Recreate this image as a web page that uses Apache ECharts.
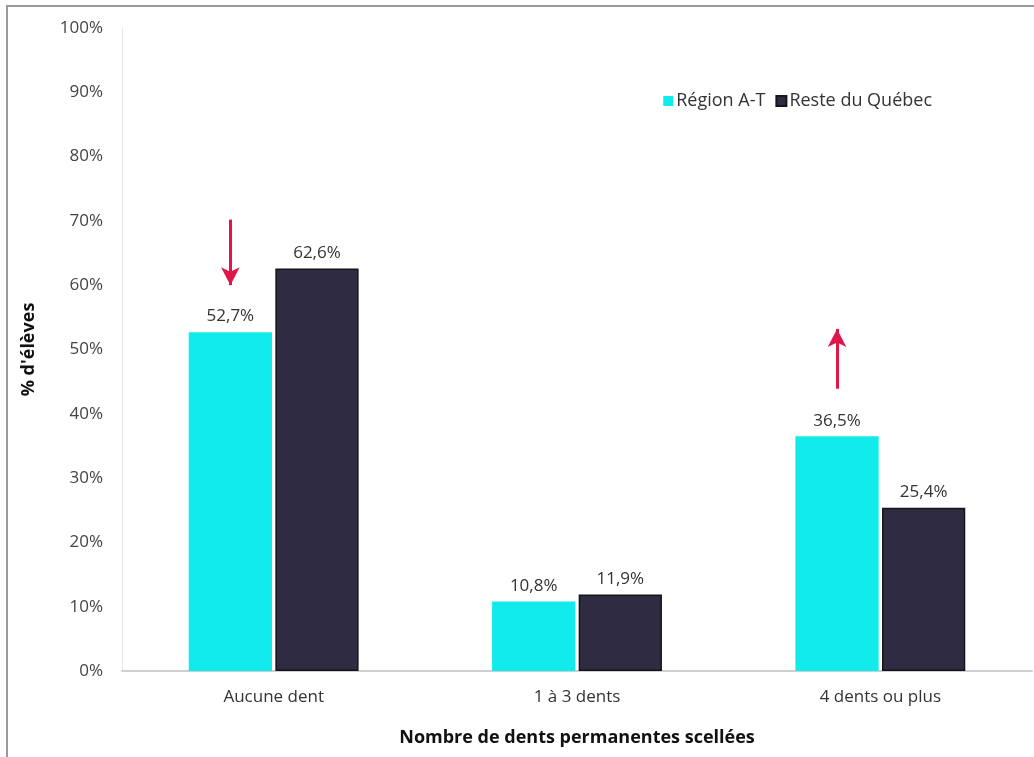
<!DOCTYPE html>
<html><head><meta charset="utf-8">
<script src="https://cdn.jsdelivr.net/npm/echarts@6/dist/echarts.min.js"></script>
<style>html,body{margin:0;padding:0;background:#fff}#c{width:1034px;height:757px}</style>
</head><body><div id="c"></div>
<script>
const categories = ['Aucune dent', '1 à 3 dents', '4 dents ou plus'];
const seriesNames = ['Région A-T', 'Reste du Québec'];
const regionAT = [52.7, 10.8, 36.5];
const resteQc = [62.6, 11.9, 25.4];
const yTicks = [0, 10, 20, 30, 40, 50, 60, 70, 80, 90, 100];
// arrow annotations: [categoryIndex, fromValue, toValue]
const arrowDown = [0, 70.2, 60.0];
const arrowUp = [2, 43.9, 53.2];

const FONT = 'Open Sans';
const fmt = v => v.toFixed(1).replace('.', ',') + '%';
const chart = echarts.init(document.getElementById('c'));
const labelStyle = {show: true, position: 'top', distance: 7, color: '#333', fontSize: 17, fontFamily: FONT, formatter: p => fmt(p.value)};
const arrowLine = (a) => [{coord: [a[0], a[1]]}, {coord: [a[0], a[2]]}];
chart.setOption({
  animation: false,
  graphic: [{type: 'rect', shape: {x: 7, y: 6, width: 1060, height: 780}, style: {fill: 'none', stroke: '#9a9a9a', lineWidth: 2}, silent: true}],
  legend: {
    right: 97, top: 87, itemWidth: 10, itemHeight: 10, itemGap: 10,
    icon: 'rect',
    textStyle: {fontSize: 18, color: '#333', fontFamily: FONT, padding: [0, 0, 0, -2]},
    data: seriesNames
  },
  grid: {left: 122, right: 2, top: 28, bottom: 86, containLabel: false},
  xAxis: {
    type: 'category', data: categories,
    name: 'Nombre de dents permanentes scellées', nameLocation: 'middle', nameGap: 58,
    nameTextStyle: {fontSize: 18, fontWeight: 'bold', color: '#111', fontFamily: FONT},
    axisLine: {lineStyle: {color: '#cfcfcf', width: 2}},
    axisTick: {show: false},
    axisLabel: {fontSize: 17, color: '#333', margin: 18, fontFamily: FONT}
  },
  yAxis: {
    type: 'value', min: 0, max: 100, interval: 10,
    name: "% d'élèves", nameLocation: 'middle', nameGap: 84, nameRotate: 90,
    nameTextStyle: {fontSize: 18, fontWeight: 'bold', color: '#111', fontFamily: FONT},
    axisLine: {show: true, lineStyle: {color: '#e6e6e6'}},
    axisTick: {show: false},
    splitLine: {show: false},
    axisLabel: {fontSize: 17, color: '#444', margin: 19, fontFamily: FONT, formatter: v => v + '%'}
  },
  series: [
    {name: seriesNames[0], type: 'bar', data: regionAT, barGap: '4%', barCategoryGap: '44%',
     itemStyle: {color: '#12EBEB'}, label: labelStyle,
     markLine: {silent: true, symbol: ['none', 'arrow'], symbolSize: [14, 18], label: {show: false},
       lineStyle: {color: '#E0164A', width: 3, type: 'solid'},
       data: [arrowLine(arrowDown), arrowLine(arrowUp)]}},
    {name: seriesNames[1], type: 'bar', data: resteQc,
     itemStyle: {color: '#2F2B42', borderColor: '#151515', borderWidth: 1.5}, label: labelStyle}
  ]
});
</script></body></html>
